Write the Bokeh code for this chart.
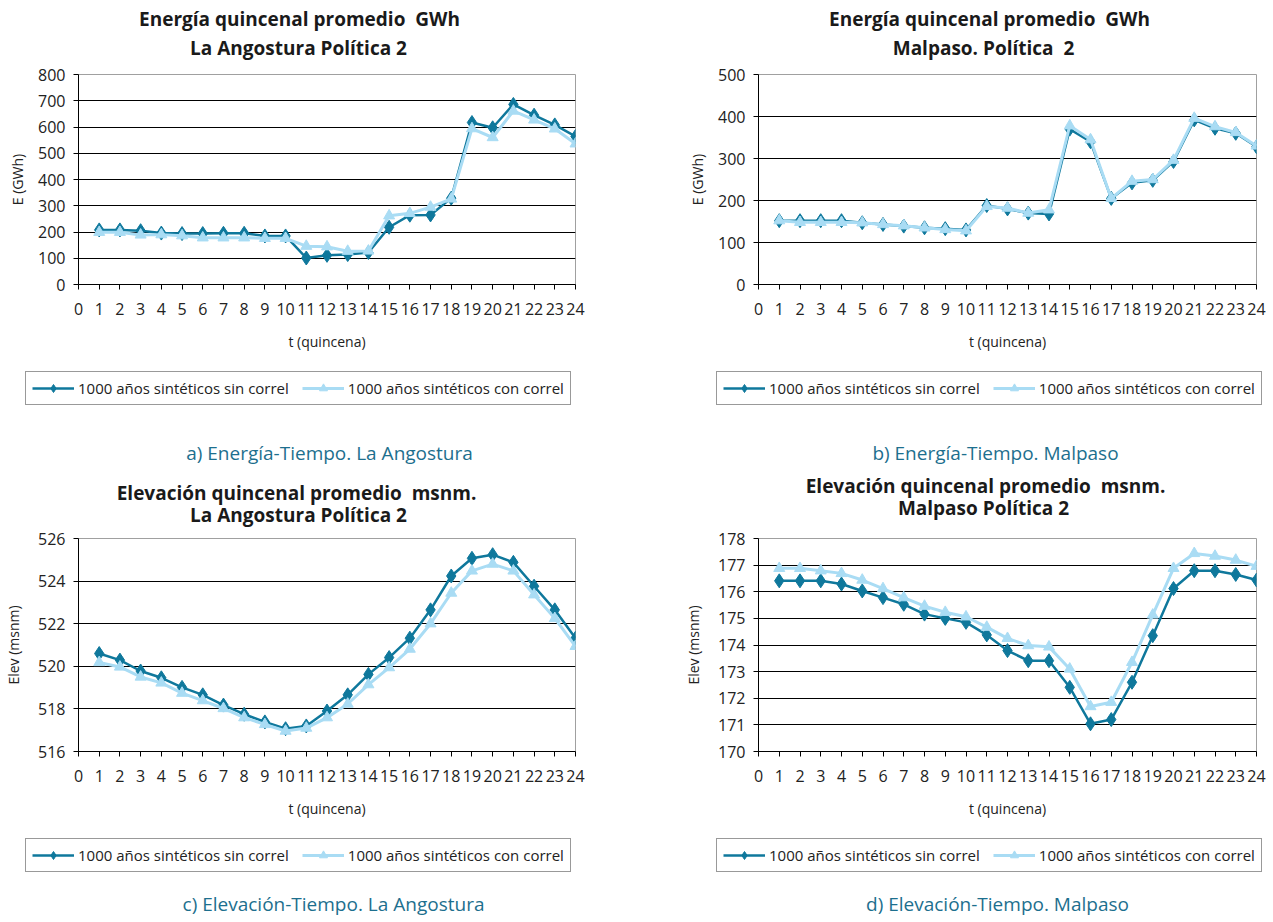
from bokeh.plotting import figure
from bokeh.models import Range1d, FixedTicker, Legend, LegendItem, Label
from bokeh.layouts import column, row
from bokeh.embed import file_html
from bokeh.resources import INLINE

# ---------------- data ----------------
quincena = list(range(1, 25))
x_ticks = list(range(0, 25))

label_sin = "1000 años sintéticos sin correl"
label_con = "1000 años sintéticos con correl"

ang_energia_sin = [208, 208, 205, 196, 194, 194, 195, 195, 185, 185, 101, 111, 114, 122,
                   218, 264, 265, 329, 617, 597, 686, 645, 608, 564]
ang_energia_con = [199, 199, 189, 190, 186, 178, 178, 178, 176, 176, 146, 144, 127, 128,
                   262, 271, 295, 326, 594, 560, 661, 627, 593, 536]

mal_energia_sin = [152, 152, 152, 152, 147, 143, 139, 135, 133, 130, 188, 180, 170, 168,
                   370, 340, 205, 242, 248, 293, 392, 372, 360, 328]
mal_energia_con = [152, 148, 148, 148, 147, 143, 140, 135, 131, 128, 186, 182, 170, 178,
                   378, 345, 205, 246, 250, 296, 396, 376, 362, 330]

ang_elev_sin = [520.6, 520.29, 519.78, 519.46, 519.01, 518.66, 518.18, 517.75, 517.39, 517.07,
                517.2, 517.9, 518.66, 519.62, 520.41, 521.32, 522.65, 524.24, 525.07, 525.24,
                524.88, 523.76, 522.65, 521.32]
ang_elev_con = [520.18, 519.97, 519.5, 519.22, 518.74, 518.39, 518.02, 517.59, 517.27, 516.96,
                517.1, 517.59, 518.23, 519.14, 519.94, 520.81, 522.0, 523.44, 524.48, 524.8,
                524.48, 523.36, 522.25, 520.94]

mal_elev_sin = [176.41, 176.41, 176.41, 176.29, 176.03, 175.78, 175.53, 175.16, 175.0, 174.85,
                174.38, 173.79, 173.41, 173.41, 172.41, 171.04, 171.2, 172.6, 174.35, 176.12,
                176.79, 176.79, 176.65, 176.44]
mal_elev_con = [176.88, 176.88, 176.79, 176.69, 176.44, 176.12, 175.78, 175.46, 175.23, 175.06,
                174.67, 174.25, 173.98, 173.93, 173.1, 171.69, 171.85, 173.35, 175.13, 176.88,
                177.44, 177.34, 177.19, 176.96]

DARK = "#0f789c"
LIGHT = "#a9dcf4"
CAPTION = "#1d6f8e"
FONT = "Open Sans"
NB = "\u00a0"  # keeps the double spaces of the original titles


def draw_series(p, y_sin, y_con, visible=True):
    l1 = p.line(quincena, y_sin, line_color=DARK, line_width=2.5, visible=visible)
    m1 = p.scatter(quincena, y_sin, marker="diamond", size=14, fill_color=DARK,
                   line_color=DARK, visible=visible)
    l2 = p.line(quincena, y_con, line_color=LIGHT, line_width=3, visible=visible)
    m2 = p.scatter(quincena, y_con, marker="triangle", size=11, fill_color=LIGHT,
                   line_color=LIGHT, visible=visible)
    return l1, m1, l2, m2


def blank(width, height):
    p = figure(width=width, height=height, output_backend="svg", toolbar_location=None,
               title=None, x_axis_type=None, y_axis_type=None,
               x_range=Range1d(0, 1), y_range=Range1d(0, 1), min_border=0)
    p.outline_line_color = None
    p.grid.visible = False
    return p


def head_fig(width, height, titles, xs, ys):
    p = blank(width, height)
    for txt, x, y in zip(titles, xs, ys):
        p.add_layout(Label(x=x, y=height - y, x_units="screen", y_units="screen",
                           text=txt, text_align="center", text_baseline="middle",
                           text_font=FONT, text_font_style="bold", text_font_size="19px",
                           text_color="#1a1a1a"))
    return p


def foot_fig(width, height, y_sin, y_con, legend_x, legend_bottom, caption, cap_x, cap_y):
    p = blank(width, height)
    l1, m1, l2, m2 = draw_series(p, y_sin, y_con, visible=False)
    legend = Legend(items=[LegendItem(label=label_sin, renderers=[l1, m1]),
                           LegendItem(label=label_con, renderers=[l2, m2])],
                    orientation="horizontal",
                    location=(legend_x, height - legend_bottom),
                    label_text_font=FONT, label_text_font_size="15px",
                    label_text_color="#222222",
                    glyph_width=42, glyph_height=20, padding=6, spacing=13,
                    label_standoff=4, margin=0,
                    border_line_color="#333333", border_line_width=1,
                    background_fill_color="white", background_fill_alpha=1)
    p.add_layout(legend)
    p.add_layout(Label(x=cap_x, y=height - cap_y, x_units="screen", y_units="screen",
                       text=caption, text_align="center", text_baseline="middle",
                       text_font=FONT, text_font_size="19px", text_color=CAPTION))
    return p


def main_fig(y_sin, y_con, y0, y1, step, ylabel, width, frame_h, b_left, b_right,
             ylabel_standoff):
    b_top, b_bottom = 10, 74
    p = figure(width=width, height=b_top + frame_h + b_bottom, output_backend="svg",
               toolbar_location=None, title=None,
               x_range=Range1d(0, 24), y_range=Range1d(y0, y1),
               min_border_left=b_left, min_border_right=b_right,
               min_border_top=b_top, min_border_bottom=b_bottom)
    ticks = list(range(y0, y1 + step, step))

    p.outline_line_color = "#a0a0a0"
    p.xgrid.visible = False
    p.ygrid.ticker = FixedTicker(ticks=ticks[1:-1])
    p.ygrid.grid_line_color = "black"
    p.ygrid.grid_line_width = 1

    for ax in (p.xaxis[0], p.yaxis[0]):
        ax.axis_line_color = "black"
        ax.major_tick_line_color = "black"
        ax.major_tick_in = 0
        ax.major_tick_out = 5
        ax.minor_tick_out = 0
        ax.minor_tick_in = 0
        ax.major_label_text_font = FONT
        ax.major_label_text_font_size = "16px"
        ax.major_label_text_color = "#222222"
        ax.axis_label_text_font = FONT
        ax.axis_label_text_font_size = "14px"
        ax.axis_label_text_font_style = "normal"
        ax.axis_label_text_color = "#222222"

    p.xaxis.ticker = FixedTicker(ticks=x_ticks)
    p.xaxis.major_label_standoff = 13
    p.xaxis.axis_label = "t (quincena)"
    p.xaxis.axis_label_standoff = 14
    p.yaxis.ticker = FixedTicker(ticks=ticks)
    p.yaxis.major_label_standoff = 8
    p.yaxis.axis_label = ylabel
    p.yaxis.axis_label_standoff = ylabel_standoff

    draw_series(p, y_sin, y_con)
    return p


# ---- row 1: energy ----
hA = head_fig(680, 64, ["Energía quincenal promedio" + NB + " GWh", "La Angostura Política 2"],
              [299, 298], [18, 47])
hB = head_fig(590, 64, ["Energía quincenal promedio" + NB + " GWh", "Malpaso. Política" + NB + " 2"],
              [989 - 680, 983 - 680], [18, 47])
pA = main_fig(ang_energia_sin, ang_energia_con, 0, 800, 100, "E (GWh)", 680, 210, 78, 105, 8)
pB = main_fig(mal_energia_sin, mal_energia_con, 0, 500, 100, "E (GWh)", 590, 210, 78, 14, 8)
fA = foot_fig(680, 114, ang_energia_sin, ang_energia_con, 25, 405 - 358,
              "a) Energía-Tiempo. La Angostura", 329, 452 - 358)
fB = foot_fig(590, 114, mal_energia_sin, mal_energia_con, 716 - 680, 405 - 358,
              "b) Energía-Tiempo. Malpaso", 995 - 680, 452 - 358)

# ---- row 2: elevation ----
hC = head_fig(680, 56, ["Elevación quincenal promedio" + NB + " msnm.", "La Angostura Política 2"],
              [296, 298], [492 - 472, 514 - 472])
hD = head_fig(590, 56, ["Elevación quincenal promedio" + NB + " msnm.", "Malpaso Política 2"],
              [985 - 680, 983 - 680], [485 - 472, 507 - 472])
pC = main_fig(ang_elev_sin, ang_elev_con, 516, 526, 2, "Elev (msnm)", 680, 213, 78, 105, 12)
pD = main_fig(mal_elev_sin, mal_elev_con, 170, 178, 1, "Elev (msnm)", 590, 213, 78, 14, 12)
fC = foot_fig(680, 96, ang_elev_sin, ang_elev_con, 25, 872 - 825,
              "c) Elevación-Tiempo. La Angostura", 333, 903 - 825)
fD = foot_fig(590, 96, mal_elev_sin, mal_elev_con, 716 - 680, 872 - 825,
              "d) Elevación-Tiempo. Malpaso", 997 - 680, 903 - 825)

layout = column(row(hA, hB), row(pA, pB), row(fA, fB),
                row(hC, hD), row(pC, pD), row(fC, fD))

open("out.html", "w").write(file_html(layout, INLINE))
